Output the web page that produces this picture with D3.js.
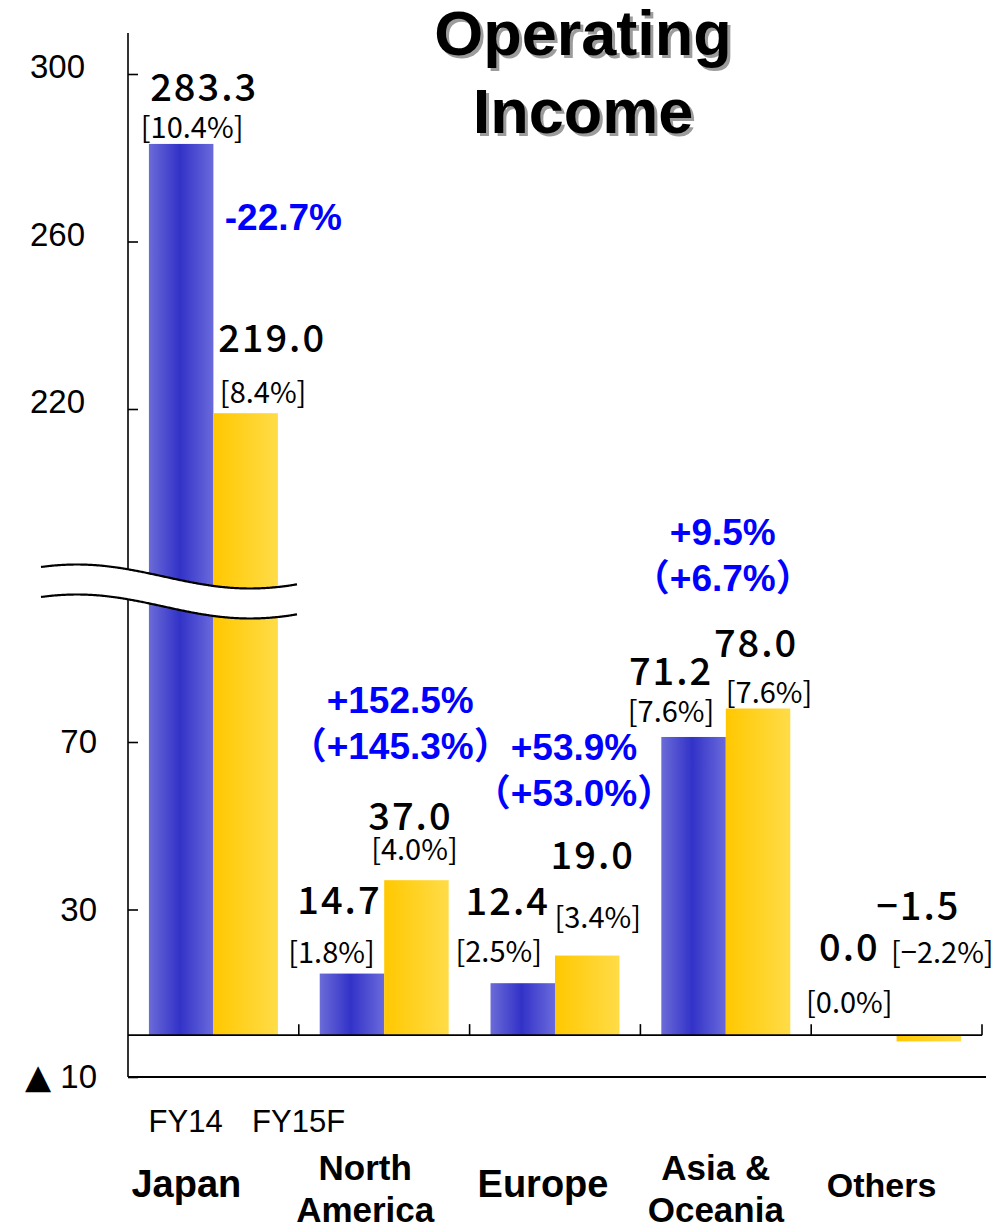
<!DOCTYPE html>
<html>
<head>
<meta charset="utf-8">
<script src="https://cdn.jsdelivr.net/npm/d3@7"></script>
<style>
  html, body { margin: 0; padding: 0; background: #fff; }
  svg { display: block; }
</style>
</head>
<body>
<div id="chart"></div>
<script>
// ---------------- DATA ----------------
const categories = ["Japan", "North America", "Europe", "Asia & Oceania", "Others"];
const categoryLines = [["Japan"], ["North", "America"], ["Europe"], ["Asia &", "Oceania"], ["Others"]];
const periods = ["FY14", "FY15F"];
const fy14Values = [283.3, 14.7, 12.4, 71.2, 0.0];
const fy15Values = [219.0, 37.0, 19.0, 78.0, -1.5];
const fy14Margins = ["[10.4%]", "[1.8%]", "[2.5%]", "[7.6%]", "[0.0%]"];
const fy15Margins = ["[8.4%]", "[4.0%]", "[3.4%]", "[7.6%]", "[−2.2%]"];
const changeLabels = [["-22.7%"], ["+152.5%", "（+145.3%）"], ["+53.9%", "（+53.0%）"], ["+9.5%", "（+6.7%）"], []];
const upperTicks = [300, 260, 220];
const lowerTicks = [70, 30, -10];
const titleLines = ["Operating", "Income"];

// ---------------- LAYOUT ----------------
const W = 1008, H = 1225;
const svg = d3.select("#chart").append("svg").attr("width", W).attr("height", H);

const x0 = d3.scaleBand().domain(categories).range([128, 982]).paddingInner(0.245).paddingOuter(0.1225);
const x1 = d3.scaleBand().domain(periods).range([0, x0.bandwidth()]);
const yUpper = d3.scaleLinear().domain([220, 300]).range([409, 74]);
const yLower = d3.scaleLinear().domain([-10, 70]).range([1077, 742]);
const breakValue = 180; // values above this live on the upper segment
const yVal = v => v > breakValue ? yUpper(v) : yLower(v);

// label offsets (dx from bar centre, dy of baseline from bar top)
const numOff14 = [[23, -43], [-12.5, -60], [-15, -68], [-22.5, -52], [-15, -74]];
const mrgOff14 = [[11, -6], [-20.5, -11], [-24, -21], [-22.5, -15], [-15, -22]];
const numOff15 = [[26.5, -61], [-6, -50], [5.5, -87], [-2, -52], [-10.5, -115]];
const mrgOff15 = [[17.5, -10], [-2, -20], [10.5, -28], [11, -6], [13.5, -72]];
// change label placement: dx from group centre, baseline level in axis units, which scale
const changePos = [[70, 262.7, "u"], [16, 77.0, "l"], [19, 65.8, "l"], [-3, 117.1, "l"], [0, 0, "l"]];
const catPos = [[-27, 38], [-19, 35], [-12, 38], [-10, 35], [-15, 34]];

// ---------------- GRADIENTS ----------------
const defs = svg.append("defs");
const gB = defs.append("linearGradient").attr("id", "gBlue").attr("x1", "0").attr("x2", "1").attr("y1", "0").attr("y2", "0");
gB.append("stop").attr("offset", "0%").attr("stop-color", "#6b6bd8");
gB.append("stop").attr("offset", "48%").attr("stop-color", "#3232c8");
gB.append("stop").attr("offset", "100%").attr("stop-color", "#6a6adc");
const gY = defs.append("linearGradient").attr("id", "gYellow").attr("x1", "0").attr("x2", "1").attr("y1", "0").attr("y2", "0");
gY.append("stop").attr("offset", "0%").attr("stop-color", "#ffc800");
gY.append("stop").attr("offset", "100%").attr("stop-color", "#ffdc48");
const fills = { "FY14": "url(#gBlue)", "FY15F": "url(#gYellow)" };

// ---------------- BARS ----------------
const rows = categories.map((c, i) => ({
  cat: c, i,
  vals: [
    { p: "FY14", v: fy14Values[i], m: fy14Margins[i], no: numOff14[i], mo: mrgOff14[i] },
    { p: "FY15F", v: fy15Values[i], m: fy15Margins[i], no: numOff15[i], mo: mrgOff15[i] }
  ]
}));

const groups = svg.append("g").selectAll("g").data(rows).join("g")
  .attr("transform", d => `translate(${x0(d.cat)},0)`);

groups.selectAll("rect").data(d => d.vals).join("rect")
  .attr("x", d => x1(d.p))
  .attr("width", x1.bandwidth())
  .attr("y", d => Math.min(yVal(d.v), yLower(0)))
  .attr("height", d => Math.abs(yLower(0) - yVal(d.v)))
  .attr("fill", d => fills[d.p]);

// ---------------- AXES ----------------
const axisG = svg.append("g");
axisG.append("line").attr("x1", 128).attr("x2", 982).attr("y1", yLower(0)).attr("y2", yLower(0))
  .attr("stroke", "#000").attr("stroke-width", 1.6);
axisG.append("line").attr("x1", 128).attr("x2", 986).attr("y1", yLower(-10)).attr("y2", yLower(-10))
  .attr("stroke", "#000").attr("stroke-width", 2);
d3.range(1, categories.length + 1).forEach(k => {
  const xx = x0.range()[0] + k * x0.step();
  axisG.append("line").attr("x1", xx).attr("x2", xx).attr("y1", yLower(0)).attr("y2", yLower(0) - 11)
    .attr("stroke", "#000").attr("stroke-width", 1.6);
});
axisG.append("line").attr("x1", 128).attr("x2", 128).attr("y1", yUpper(309.8)).attr("y2", yLower(-10))
  .attr("stroke", "#000").attr("stroke-width", 1.6);

const upAxis = svg.append("g").attr("transform", "translate(128,0)")
  .call(d3.axisLeft(yUpper).tickValues(upperTicks).tickSizeInner(-10).tickSizeOuter(0).tickPadding(43));
const loAxis = svg.append("g").attr("transform", "translate(128,0)")
  .call(d3.axisLeft(yLower).tickValues(lowerTicks).tickSizeInner(-10).tickSizeOuter(0).tickPadding(31));
[upAxis, loAxis].forEach(a => {
  a.select(".domain").remove();
  a.selectAll(".tick line").attr("stroke", "#000").attr("stroke-width", 1.6);
  a.selectAll(".tick text").attr("fill", "#000")
    .style("font-family", "'Liberation Sans', Arial, 'DejaVu Sans', sans-serif").style("font-size", "33px")
    .each(function (d) {
      const t = d3.select(this).text("");
      if (d < 0) {
        t.append("tspan").style("font-family", "'DejaVu Sans', sans-serif").style("font-size", "34px").text("▲");
        t.append("tspan").text("   " + Math.abs(d));
      } else {
        t.text(String(d));
      }
    });
});
upAxis.selectAll(".tick text").attr("dy", "0.12em");

// ---------------- AXIS BREAK ----------------
const waveX = d3.range(41, 299, 2);
const wy = (x, base) => base - 12 * Math.cos(2 * Math.PI * (x - 77) / 346);
const upBase = yUpper(breakValue), loBase = upBase + 30;
const bandPts = waveX.map(x => [x, wy(x, upBase)]).concat(waveX.slice().reverse().map(x => [x, wy(x, loBase)]));
svg.append("path").attr("d", d3.line()(bandPts) + "Z").attr("fill", "#fff").attr("stroke", "none");
[upBase, loBase].forEach(b => {
  svg.append("path").attr("d", d3.line().curve(d3.curveBasis)(waveX.map(x => [x, wy(x, b)])))
    .attr("fill", "none").attr("stroke", "#000").attr("stroke-width", 2.2);
});

// ---------------- VALUE LABELS ----------------
const fmtVal = d3.format(".1f");
const numFont = "'Noto Sans CJK JP', 'Noto Sans', sans-serif";
const lbl = svg.append("g");
rows.forEach(r => {
  r.vals.forEach(d => {
    const cx = x0(r.cat) + x1(d.p) + x1.bandwidth() / 2;
    const top = Math.min(yVal(d.v), yLower(0));
    lbl.append("text").attr("x", cx + d.no[0]).attr("y", top + d.no[1])
      .attr("text-anchor", "middle").attr("fill", "#000")
      .style("font-family", numFont).style("font-size", "38px").style("font-weight", 500)
      .style("letter-spacing", "2px")
      .text(fmtVal(d.v));
    lbl.append("text").attr("x", cx + d.mo[0]).attr("y", top + d.mo[1])
      .attr("text-anchor", "middle").attr("fill", "#000")
      .style("font-family", numFont).style("font-size", "29px").style("font-weight", 400)
      .text(d.m);
  });
});

// ---------------- CHANGE LABELS ----------------
changeLabels.forEach((lines, i) => {
  const [dx, lev, sc] = changePos[i];
  const cx = x0(categories[i]) + x0.bandwidth() / 2 + dx;
  const y0 = sc === "u" ? yUpper(lev) : yLower(lev);
  lines.forEach((t, j) => {
    svg.append("text").attr("x", cx).attr("y", y0 + j * 46)
      .attr("text-anchor", "middle").attr("fill", "#0000ff")
      .style("font-family", "'Liberation Sans', Arial, 'Noto Sans CJK JP', sans-serif")
      .style("font-size", "37px").style("font-weight", "bold")
      .text(t);
  });
});

// ---------------- CATEGORY & PERIOD LABELS ----------------
const catFont = "'Liberation Sans', Arial, sans-serif";
categoryLines.forEach((lines, i) => {
  const cx = x0(categories[i]) + x0.bandwidth() / 2 + catPos[i][0];
  const fs = catPos[i][1];
  const bottom = yLower(-10);
  const ys = lines.length === 1 ? [bottom + 120] : [bottom + 103, bottom + 145];
  lines.forEach((t, j) => {
    svg.append("text").attr("x", cx).attr("y", ys[j]).attr("text-anchor", "middle")
      .attr("fill", "#000").style("font-family", catFont).style("font-size", fs + "px").style("font-weight", "bold")
      .text(t);
  });
});
const periodDx = [4.5, 53];
periods.forEach((p, k) => {
  const cx = x0(categories[0]) + x1(p) + x1.bandwidth() / 2 + periodDx[k];
  svg.append("text").attr("x", cx).attr("y", yLower(-10) + 55).attr("text-anchor", "middle")
    .attr("fill", "#000").style("font-family", catFont).style("font-size", "31px")
    .text(p);
});

// ---------------- TITLE ----------------
const titleY = [55, 133];
titleLines.forEach((t, j) => {
  svg.append("text").attr("x", 586).attr("y", titleY[j] + 3).attr("text-anchor", "middle")
    .attr("fill", "#9c9c9c").style("font-family", catFont).style("font-size", "63px").style("font-weight", "bold").text(t);
  svg.append("text").attr("x", 583).attr("y", titleY[j]).attr("text-anchor", "middle")
    .attr("fill", "#000").style("font-family", catFont).style("font-size", "63px").style("font-weight", "bold").text(t);
});
</script>
</body>
</html>
